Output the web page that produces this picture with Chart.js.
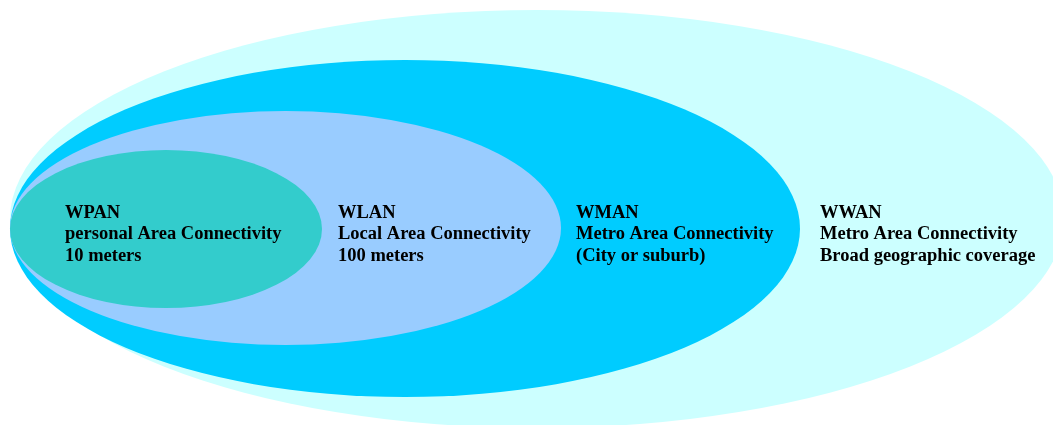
<!DOCTYPE html>
<html>
<head>
<meta charset="utf-8">
<script src="https://cdn.jsdelivr.net/npm/chart.js@4/dist/chart.umd.min.js"></script>
<style>
  html, body { margin: 0; padding: 0; background: #ffffff; }
  #wrap { width: 1053px; height: 425px; }
</style>
</head>
<body>
<div id="wrap"><canvas id="c" width="1053" height="425"></canvas></div>
<script>
// Network classes, drawn outermost first
const names = ["WWAN", "WMAN", "WLAN", "WPAN"];
const descriptions = ["Metro Area Connectivity", "Metro Area Connectivity", "Local Area Connectivity", "personal Area Connectivity"];
const ranges = ["Broad geographic coverage", "(City or suburb)", "100 meters", "10 meters"];
// Coverage extents in chart units (x: 0..105.3, y: 0..42.5 top-down)
const extentLeft   = [1.0, 1.0, 1.0, 1.0];
const extentRight  = [106.4, 80.0, 56.1, 32.2];
const extentTop    = [1.0, 6.0, 11.1, 15.0];
const extentBottom = [42.8, 39.7, 34.5, 30.8];
// Label anchors in chart units
const labelX = [82.0, 57.6, 33.8, 6.5];
const labelY = [21.75, 21.75, 21.75, 21.75];
const fills = ["#CCFFFF", "#00CCFF", "#99CCFF", "#33CCCC"];

const ellipsePlugin = {
  id: 'ellipses',
  beforeDatasetsDraw(chart) {
    const ctx = chart.ctx;
    const xs = chart.scales.x, ys = chart.scales.y;
    ctx.save();
    for (let i = 0; i < names.length; i++) {
      const x0 = xs.getPixelForValue(extentLeft[i]);
      const x1 = xs.getPixelForValue(extentRight[i]);
      const y0 = ys.getPixelForValue(extentTop[i]);
      const y1 = ys.getPixelForValue(extentBottom[i]);
      ctx.beginPath();
      ctx.ellipse((x0 + x1) / 2, (y0 + y1) / 2, Math.abs(x1 - x0) / 2, Math.abs(y1 - y0) / 2, 0, 0, Math.PI * 2);
      ctx.fillStyle = fills[i];
      ctx.fill();
    }
    ctx.fillStyle = "#000000";
    ctx.font = "bold 18.5px 'Liberation Serif', 'Times New Roman', serif";
    ctx.textBaseline = "alphabetic";
    ctx.textAlign = "left";
    for (let i = 0; i < names.length; i++) {
      const px = xs.getPixelForValue(labelX[i]);
      const py = ys.getPixelForValue(labelY[i]);
      ctx.fillText(names[i], px, py);
      ctx.fillText(descriptions[i], px, py + 21.5);
      ctx.fillText(ranges[i], px, py + 43);
    }
    ctx.restore();
  }
};

new Chart(document.getElementById('c'), {
  type: 'scatter',
  data: { datasets: [{ data: [], pointRadius: 0 }] },
  options: {
    responsive: false,
    animation: false,
    layout: { padding: 0 },
    plugins: { legend: { display: false }, tooltip: { enabled: false } },
    scales: {
      x: { type: 'linear', min: 0, max: 105.3, display: false },
      y: { type: 'linear', min: 0, max: 42.5, reverse: true, display: false }
    }
  },
  plugins: [ellipsePlugin]
});
</script>
</body>
</html>
